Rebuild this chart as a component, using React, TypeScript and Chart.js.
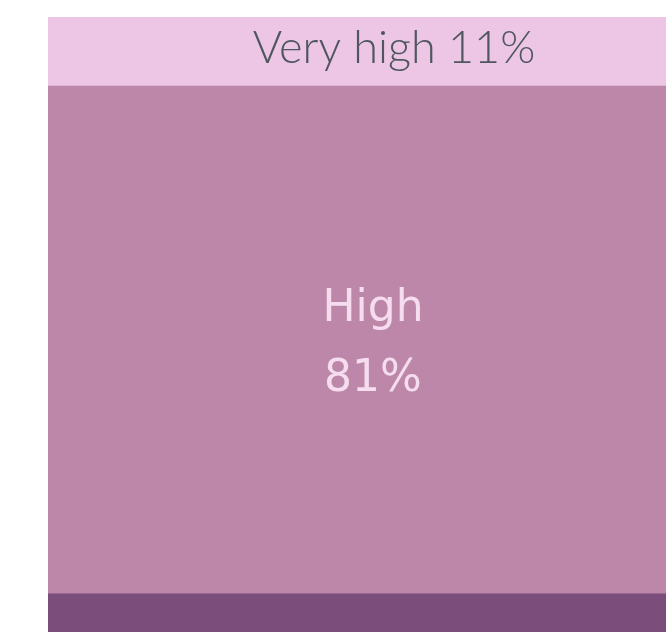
import React, { useEffect, useRef } from "react";
import { Chart, registerables } from "chart.js";

Chart.register(...registerables);

const categories = ["Risk level"];
const segmentNames = ["Medium", "High", "Very high"];
const segmentValues = [8, 81, 11];
const segmentColors = ["#7b4d7b", "#bd87a9", "#ecc6e4"];

const labelPlugin = {
  id: "segmentLabels",
  afterDatasetsDraw(chart: any) {
    const ctx = chart.ctx;
    chart.data.datasets.forEach((ds: any, i: number) => {
      const cfg = ds.labelStyle;
      if (!cfg) return;
      const el = chart.getDatasetMeta(i).data[0];
      if (!el) return;
      const cx = el.x + (cfg.dx || 0);
      const cy = (el.y + el.base) / 2 + (cfg.dy || 0);
      ctx.save();
      ctx.fillStyle = cfg.color;
      ctx.font = cfg.font;
      ctx.textAlign = "center";
      ctx.textBaseline = "alphabetic";
      const lines: string[] = cfg.lines(ds.label, ds.data[0]);
      const n = lines.length;
      lines.forEach((t, k) => {
        const y = cy + cfg.baselineShift + (k - (n - 1) / 2) * cfg.lineHeight;
        ctx.fillText(t, cx, y);
      });
      ctx.restore();
    });
  },
};

export default function App() {
  const ref = useRef<HTMLCanvasElement | null>(null);
  useEffect(() => {
    if (!ref.current) return;
    const styles: any[] = [
      null,
      {
        color: "#f5ddef",
        font: "44px 'DejaVu Sans'",
        lineHeight: 70,
        baselineShift: 16,
        dx: -21,
        dy: 0,
        lines: (l: string, v: number) => [l, v + "%"],
      },
      {
        color: "#4f5660",
        font: "300 45px Lato",
        lineHeight: 0,
        baselineShift: 15,
        dx: 0,
        dy: -3,
        lines: (l: string, v: number) => [l + " " + v + "%"],
      },
    ];
    const chart = new Chart(ref.current, {
      type: "bar",
      data: {
        labels: categories,
        datasets: segmentNames.map((name, i) => ({
          label: name,
          data: [segmentValues[i]],
          backgroundColor: segmentColors[i],
          borderWidth: 0,
          barPercentage: 1,
          categoryPercentage: 1,
          labelStyle: styles[i],
        })) as any,
      },
      options: {
        responsive: false,
        animation: false,
        layout: { padding: { left: 48, top: 17, right: 0, bottom: 16 } },
        plugins: { legend: { display: false }, tooltip: { enabled: false } },
        scales: {
          x: { stacked: true, display: false },
          y: { stacked: true, display: false, min: 0, max: 100 },
        },
      },
      plugins: [labelPlugin],
    });
    return () => chart.destroy();
  }, []);
  return (
    <div
      style={{
        position: "fixed",
        left: 0,
        top: 0,
        width: 666,
        height: 632,
        overflow: "hidden",
        background: "#ffffff",
      }}
    >
      <canvas ref={ref} width={740} height={660} style={{ display: "block" }} />
    </div>
  );
}
